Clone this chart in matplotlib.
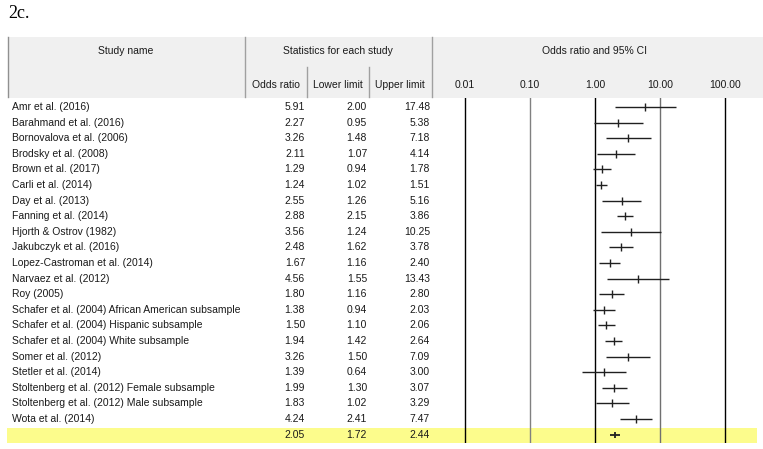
import matplotlib
matplotlib.use('Agg')
import matplotlib.pyplot as plt
from matplotlib.patches import Rectangle

plt.rcParams['font.family'] = ['Liberation Sans', 'DejaVu Sans']

# ---- data ----
studies = [
    'Amr et al. (2016)',
    'Barahmand et al. (2016)',
    'Bornovalova et al. (2006)',
    'Brodsky et al. (2008)',
    'Brown et al. (2017)',
    'Carli et al. (2014)',
    'Day et al. (2013)',
    'Fanning et al. (2014)',
    'Hjorth & Ostrov (1982)',
    'Jakubczyk et al. (2016)',
    'Lopez-Castroman et al. (2014)',
    'Narvaez et al. (2012)',
    'Roy (2005)',
    'Schafer et al. (2004) African American subsample',
    'Schafer et al. (2004) Hispanic subsample',
    'Schafer et al. (2004) White subsample',
    'Somer et al. (2012)',
    'Stetler et al. (2014)',
    'Stoltenberg et al. (2012) Female subsample',
    'Stoltenberg et al. (2012) Male subsample',
    'Wota et al. (2014)',
]
odds  = [5.91, 2.27, 3.26, 2.11, 1.29, 1.24, 2.55, 2.88, 3.56, 2.48, 1.67,
         4.56, 1.80, 1.38, 1.50, 1.94, 3.26, 1.39, 1.99, 1.83, 4.24]
lower = [2.00, 0.95, 1.48, 1.07, 0.94, 1.02, 1.26, 2.15, 1.24, 1.62, 1.16,
         1.55, 1.16, 0.94, 1.10, 1.42, 1.50, 0.64, 1.30, 1.02, 2.41]
upper = [17.48, 5.38, 7.18, 4.14, 1.78, 1.51, 5.16, 3.86, 10.25, 3.78, 2.40,
         13.43, 2.80, 2.03, 2.06, 2.64, 7.09, 3.00, 3.07, 3.29, 7.47]
sum_or, sum_lo, sum_hi = 2.05, 1.72, 2.44

tick_vals   = [0.01, 0.1, 1, 10, 100]
tick_labels = ['0.01', '0.10', '1.00', '10.00', '100.00']
ref_colors  = ['#000000', '#808080', '#000000', '#707070', '#000000']

W, H = 763, 449
HEAD_GRAY = '#f0f0f0'
DIV = '#a0a0a0'
YELLOW = '#fcfc8c'
TXT = '#1a1a1a'
FS = 7.5

fig = plt.figure(figsize=(W / 100, H / 100), dpi=100, facecolor='white')

# ---- background / header (pixel coords) ----
bg = fig.add_axes([0, 0, 1, 1])
bg.set_xlim(0, W); bg.set_ylim(H, 0); bg.axis('off')
bg.text(8, 13, '2c.', family='Liberation Serif', fontsize=13, va='center', ha='left')
bg.add_patch(Rectangle((8, 37), W - 8, 61, facecolor=HEAD_GRAY, edgecolor='none'))
bg.plot([8, 8], [37, 97], color='#909090', lw=1)
for x in (245, 432):
    bg.plot([x, x], [37, 97], color=DIV, lw=1)
for x in (307, 369):
    bg.plot([x, x], [67, 97], color=DIV, lw=1)
bg.text(126, 51, 'Study name', fontsize=FS, ha='center', va='center', color=TXT)
bg.text(338, 51, 'Statistics for each study', fontsize=FS, ha='center', va='center', color=TXT)
bg.text(595, 51, 'Odds ratio and 95% CI', fontsize=FS, ha='center', va='center', color=TXT)
for x, lab in zip((276, 338, 400), ('Odds ratio', 'Lower limit', 'Upper limit')):
    bg.text(x, 85, lab, fontsize=FS, ha='center', va='center', color=TXT)

# ---- table rows ----
top_px, bot_px = 98, 443
nrow = len(studies) + 1
y_top, y_bot = -0.58, 21.54
tab = fig.add_axes([0, 1 - bot_px / H, 1, (bot_px - top_px) / H])
tab.set_xlim(0, W); tab.set_ylim(y_bot, y_top); tab.axis('off')
tab.axhspan(nrow - 1 - 0.45, y_bot, xmin=7 / W, xmax=757 / W, color=YELLOW, lw=0)

rows = list(range(len(studies)))
for i, name in enumerate(studies):
    tab.text(12, i, name, fontsize=FS, ha='left', va='center', color=TXT)
    tab.text(305, i, f'{odds[i]:.2f}', fontsize=FS, ha='right', va='center', color=TXT)
    tab.text(367, i, f'{lower[i]:.2f}', fontsize=FS, ha='right', va='center', color=TXT)
    tab.text(430, i, f'{upper[i]:.2f}', fontsize=FS, ha='right', va='center', color=TXT)
s = nrow - 1
tab.text(305, s, f'{sum_or:.2f}', fontsize=FS, ha='right', va='center', color=TXT)
tab.text(367, s, f'{sum_lo:.2f}', fontsize=FS, ha='right', va='center', color=TXT)
tab.text(430, s, f'{sum_hi:.2f}', fontsize=FS, ha='right', va='center', color=TXT)

# ---- forest plot ----
ax = fig.add_axes([432 / W, 1 - bot_px / H, (758 - 432) / W, (bot_px - top_px) / H])
ax.patch.set_visible(False)
ax.set_xscale('log')
ax.set_xlim(10 ** -2.5, 10 ** 2.5)
ax.set_ylim(y_bot, y_top)
for v, c in zip(tick_vals, ref_colors):
    ax.axvline(v, color=c, lw=1.0, zorder=1)
ax.hlines(rows, lower, upper, color='#202020', lw=1.0, zorder=2)
ax.plot(odds, rows, ls='none', marker='|', ms=5.5, mew=1.0, color='#202020', zorder=3)
ax.hlines([s], [sum_lo], [sum_hi], color='#202020', lw=1.3, zorder=2)
ax.plot([sum_or], [s], ls='none', marker='|', ms=5, mew=1.3, color='#202020', zorder=3)

ax.xaxis.tick_top()
ax.set_xticks(tick_vals)
ax.set_xticklabels(tick_labels, fontsize=FS, color=TXT)
ax.minorticks_off()
ax.tick_params(axis='x', length=0, pad=6)
ax.set_yticks([])
for sp in ax.spines.values():
    sp.set_visible(False)

fig.savefig('out.png', dpi=100, facecolor='white')
